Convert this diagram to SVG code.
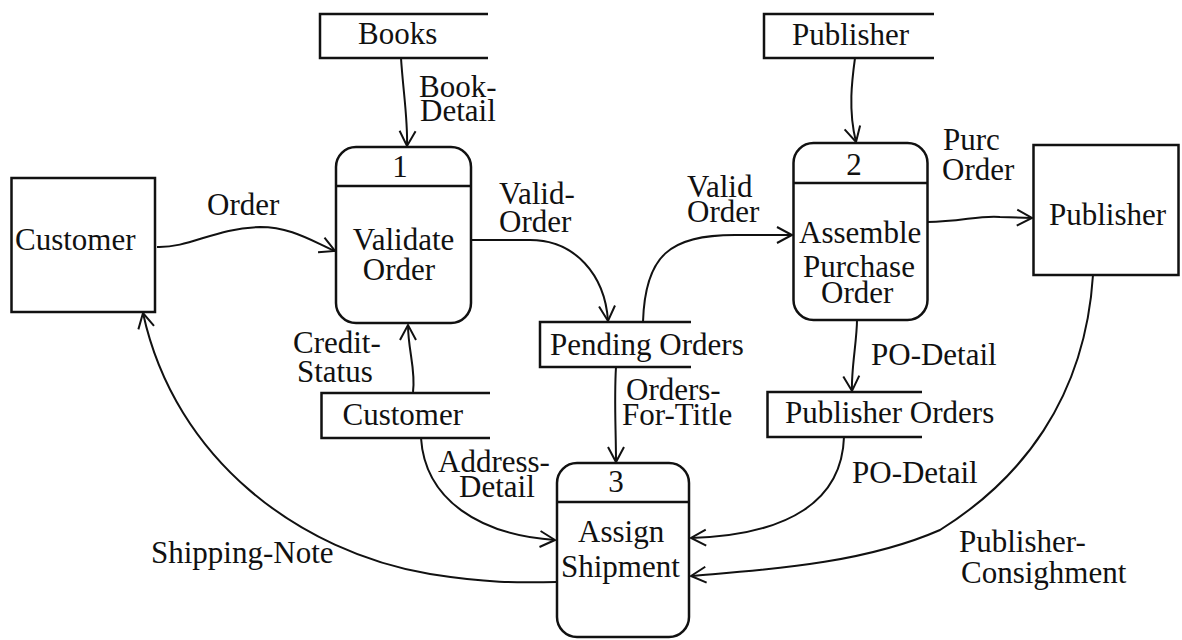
<svg xmlns="http://www.w3.org/2000/svg" width="1182" height="640" viewBox="0 0 1182 640">
  <style>
    .box { fill: none; stroke: #111; stroke-width: 2.5; }
    .store { fill: none; stroke: #111; stroke-width: 2.5; }
    .flow { fill: none; stroke: #111; stroke-width: 2; marker-end: url(#open); }
    text { font-family: "Liberation Serif", "Times New Roman", serif; font-size: 31px; fill: #111; }
    .mid { text-anchor: middle; }
  </style>
  <defs>
    <marker id="open" markerUnits="userSpaceOnUse" markerWidth="24" markerHeight="24" viewBox="-20 -12 24 24" refX="0" refY="0" orient="auto">
      <path d="M-15,-8 L0,0 L-15,8" fill="none" stroke="#111" stroke-width="2"/>
    </marker>
  </defs>

  <rect width="1182" height="640" fill="#fff"/>

  <!-- external entities -->
  <g id="ext-customer">
    <rect class="box" x="11.5" y="178" width="143.5" height="134"/>
    <text x="15" y="250">Customer</text>
  </g>
  <g id="ext-publisher">
    <rect class="box" x="1033.5" y="145" width="145" height="130"/>
    <text x="1049" y="225">Publisher</text>
  </g>

  <!-- data stores (open on the right) -->
  <g id="store-books">
    <path class="store" d="M488,14 H320 V58 H488"/>
    <text x="358" y="44">Books</text>
  </g>
  <g id="store-publisher">
    <path class="store" d="M934,14 H764 V58 H934"/>
    <text x="792" y="45">Publisher</text>
  </g>
  <g id="store-pending-orders">
    <path class="store" d="M691,322 H540 V367 H691"/>
    <text x="550" y="355">Pending Orders</text>
  </g>
  <g id="store-customer">
    <path class="store" d="M490,393 H321.5 V438 H490"/>
    <text x="342.5" y="425">Customer</text>
  </g>
  <g id="store-publisher-orders">
    <path class="store" d="M922,392 H767.5 V437 H922"/>
    <text x="785" y="423">Publisher Orders</text>
  </g>

  <!-- processes -->
  <g id="proc-1">
    <rect class="box" x="336" y="147" width="135" height="176" rx="20"/>
    <line class="box" x1="336" y1="186" x2="471" y2="186"/>
    <text class="mid" x="400" y="177">1</text>
    <text class="mid" x="403.5" y="250">Validate</text>
    <text class="mid" x="399" y="280">Order</text>
  </g>
  <g id="proc-2">
    <rect class="box" x="793.5" y="143" width="134" height="177" rx="20"/>
    <line class="box" x1="793.5" y1="183" x2="927.5" y2="183"/>
    <text class="mid" x="854" y="175">2</text>
    <text x="799" y="243">Assemble</text>
    <text x="803" y="277">Purchase</text>
    <text x="821" y="303">Order</text>
  </g>
  <g id="proc-3">
    <rect class="box" x="557" y="463" width="132" height="174" rx="20"/>
    <line class="box" x1="557" y1="502" x2="689" y2="502"/>
    <text class="mid" x="616" y="492">3</text>
    <text x="578" y="542">Assign</text>
    <text x="561" y="577">Shipment</text>
  </g>

  <!-- data flows -->
  <g id="flows">
    <path class="flow" d="M157,247 C190,248 215,228 260,227 C290,227 310,240 335,251"/>
    <path class="flow" d="M401,58 C403,90 408,120 407,146"/>
    <path class="flow" d="M471,240 L530,240 C575,240 605,275 608,321"/>
    <path class="flow" d="M643,322 C645,255 670,235 735,235 L792,235"/>
    <path class="flow" d="M855,58 C852,80 848,110 856,142"/>
    <path class="flow" d="M927.5,222 C960,222 980,215 1000,217 L1032,218"/>
    <path class="flow" d="M857,320 C857,340 851,370 852,391"/>
    <path class="flow" d="M413,392 C416,370 408,350 408,325"/>
    <path class="flow" d="M616,367 C614,400 616,430 616,462"/>
    <path class="flow" d="M421,438 C425,500 480,535 555,540"/>
    <path class="flow" d="M844,437 C842,500 790,535 691,538"/>
    <path class="flow" d="M1093,275 C1085,400 1020,480 940,530 C860,565 760,570 691,576"/>
    <path class="flow" d="M557,582 C530,582 500,585 430,574 C300,552 175,460 143,313"/>
  </g>

  <!-- flow labels -->
  <g id="labels">
    <text x="207" y="215">Order</text>
    <text x="419" y="97">Book-</text>
    <text x="420" y="121">Detail</text>
    <text x="499" y="204">Valid-</text>
    <text x="499" y="232">Order</text>
    <text x="687" y="197">Valid</text>
    <text x="687" y="222">Order</text>
    <text x="943" y="150">Purc</text>
    <text x="942" y="180">Order</text>
    <text x="293" y="353">Credit-</text>
    <text x="297" y="382">Status</text>
    <text x="626" y="400">Orders-</text>
    <text x="622" y="425">For-Title</text>
    <text x="871" y="365">PO-Detail</text>
    <text x="438" y="472">Address-</text>
    <text x="459" y="497">Detail</text>
    <text x="852" y="483">PO-Detail</text>
    <text x="151" y="563">Shipping-Note</text>
    <text x="959" y="552">Publisher-</text>
    <text x="961" y="583">Consighment</text>
  </g>
</svg>
